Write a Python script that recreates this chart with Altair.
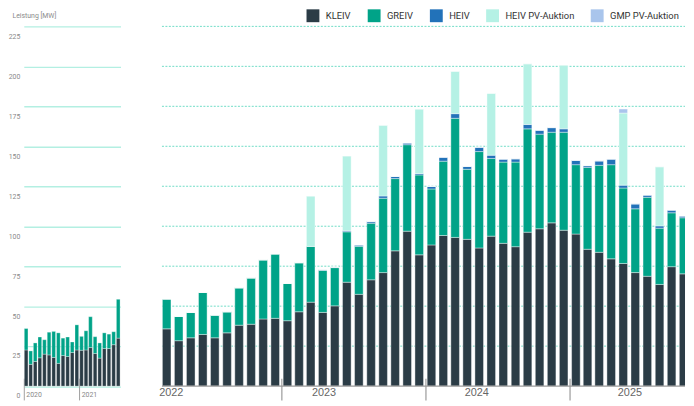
import altair as alt
import pandas as pd

SERIES = ["KLEIV", "GREIV", "HEIV", "HEIV PV-Auktion", "GMP PV-Auktion"]
COLORS = ["#2b3c46", "#00a388", "#2272b9", "#b5f1e5", "#a9c5ec"]

# ---- early panel: Jan 2020 - Sep 2021 ----
early_start = "2020-01-01"
early_kleiv = [22.6, 13.6, 15.4, 17.7, 20.0, 19.5, 17.9, 14.2, 19.1, 18.5, 21.0, 22.6,
               22.4, 22.6, 24.1, 20.4, 17.5, 23.5, 23.5, 25.9, 30.0]
early_greiv = [13.4, 8.4, 11.6, 13.0, 9.0, 14.2, 16.3, 19.1, 10.9, 12.2, 6.6, 15.7,
               8.7, 12.0, 19.3, 10.5, 9.5, 9.8, 9.0, 8.1, 24.3]

# ---- main panel: Mar 2022 - Oct 2025 ----
late_start = "2022-03-01"
late_kleiv = [35.8, 28.4, 30.2, 32.3, 30.2, 33.3, 38.1, 38.7, 42.0, 42.4,
              40.9, 46.5, 52.5, 46.1, 50.2, 65.0, 57.4, 66.5, 71.0, 84.6, 96.9, 82.1,
              88.3, 94.2, 93.0, 91.8, 86.4, 93.8, 89.3, 87.2, 96.3, 98.4, 102.1, 97.5,
              95.1, 85.6, 83.7, 79.6, 76.7, 71.0, 68.7, 63.6, 74.7, 70.2]
late_greiv = [18.7, 15.2, 15.9, 26.3, 14.2, 13.2, 23.4, 29.0, 37.0, 40.3,
              23.3, 30.7, 34.9, 26.3, 23.9, 31.5, 30.0, 35.4, 46.5, 45.2, 54.1, 50.0,
              35.0, 46.5, 74.5, 43.8, 60.3, 48.6, 50.8, 52.9, 64.6, 59.2, 56.7, 61.3,
              43.4, 51.2, 54.4, 58.9, 47.2, 39.9, 49.4, 35.2, 33.7, 35.1]
late_heiv = [0, 0, 0, 0, 0, 0, 0, 0, 0, 0,
             0, 0, 0, 0.4, 0.3, 0.6, 0.9, 1.0, 1.4, 1.3, 1.1, 0.8,
             1.6, 2.5, 2.9, 1.8, 2.7, 2.0, 1.9, 2.1, 2.7, 2.5, 2.9, 2.1,
             2.7, 1.1, 2.8, 3.5, 1.8, 3.1, 1.4, 1.4, 1.7, 1.1]
late_heiv_pv = [0, 0, 0, 0, 0, 0, 0, 0, 0, 0,
                0, 0, 31.5, 0, 0, 46.9, 0, 0, 44.3, 0, 0, 40.4,
                0, 0, 26.5, 0, 0, 38.7, 0, 0, 38.0, 0, 0, 39.9,
                0, 0, 0, 0, 45.1, 0, 0, 37.0, 0, 0]
late_gmp_pv = [0, 0, 0, 0, 0, 0, 0, 0, 0, 0,
               0, 0, 0, 0, 0, 0, 0, 0, 0, 0, 0, 0,
               0, 0, 0, 0, 0, 0, 0, 0, 0, 0, 0, 0,
               0, 0, 0, 0, 2.5, 0, 0, 0, 0, 0]

grid_values = [25, 50, 75, 100, 125, 150, 175, 200, 225]
y_labels = [0, 25, 50, 75, 100, 125, 150, 175, 200, 225]


def to_long(start, columns):
    n = len(columns[0])
    months = pd.date_range(start, periods=n, freq="MS")
    rows = []
    for si, vals in enumerate(columns):
        for m, v in zip(months, vals):
            rows.append({"month": m, "series": SERIES[si], "idx": si, "value": v})
    return pd.DataFrame(rows)


df_early = to_long(early_start, [early_kleiv, early_greiv])
df_late = to_long(late_start, [late_kleiv, late_greiv, late_heiv, late_heiv_pv, late_gmp_pv])
df_grid = pd.DataFrame({"v": grid_values})
df_base = pd.DataFrame({"v": [0]})

SMALL = "Roboto, Liberation Sans, sans-serif"
H = 364.5
LW = 98
RW = 555

yscale = alt.Scale(domain=[0, 225], nice=False, zero=True)
cscale = alt.Scale(domain=SERIES, range=COLORS)


def D(y, m, d):
    return alt.DateTime(year=y, month=m, date=d)


legend = alt.Legend(
    orient="none", legendX=286, legendY=-18, direction="horizontal", title=None,
    symbolType="square", symbolSize=170, symbolStrokeWidth=0,
    labelFont="Roboto", labelFontSize=9.5, labelColor="#333333",
    columnPadding=16, labelOffset=6, labelLimit=0,
)

left = alt.Chart(df_early).mark_bar(width=3.7, stroke="white", strokeWidth=0.3).encode(
    x=alt.X(
        "yearmonth(month):T", bandPosition=0.5,
        scale=alt.Scale(domain=[D(2020, 1, 1), D(2021, 10, 1)]),
        axis=alt.Axis(
            values=[D(2020, 1, 1), D(2021, 1, 1)], format="%Y", formatType="time",
            title=None, domain=False, grid=False, offset=-8, labelFlush=False,
            tickSize=22, tickColor="#a0a0a0", tickWidth=1,
            labelAlign="left", labelOffset=2, labelPadding=-9.5, labelBaseline="top",
            labelFont=SMALL, labelFontSize=7, labelColor="#888888",
        ),
    ),
    y=alt.Y(
        "value:Q", stack="zero", scale=yscale,
        axis=alt.Axis(
            values=y_labels, grid=True, gridColor="#b3efe2", gridWidth=1.4,
            domain=False, ticks=False, labelPadding=4, labelOffset=10,
            labelFont=SMALL, labelFontSize=7, labelColor="#8a8a8a",
            title="Leistung [MW]", titleAngle=0, titleAlign="left", titleBaseline="middle",
            titleX=-12, titleY=-11, titleFont=SMALL, titleFontSize=7,
            titleColor="#8a8a8a", titleFontWeight="normal",
        ),
    ),
    color=alt.Color("series:N", scale=cscale, legend=legend),
    order=alt.Order("idx:Q"),
).properties(width=LW, height=H)

grid = alt.Chart(df_grid).mark_rule(color="#6fdcc6", strokeDash=[2, 1.5], strokeWidth=1).encode(
    y=alt.Y("v:Q", scale=yscale, axis=None),
    x=alt.value(25), x2=alt.value(RW),
)

bars = alt.Chart(df_late).mark_bar(width=8.7, stroke="white", strokeWidth=0.4, clip=True).encode(
    x=alt.X(
        "yearmonth(month):T", bandPosition=0.5,
        scale=alt.Scale(domain=[D(2022, 1, 1), D(2025, 10, 20)]),
        axis=alt.Axis(
            values=[D(2022, 1, 1), D(2023, 1, 1), D(2024, 1, 1), D(2025, 1, 1)],
            format="%Y", formatType="time", title=None, domain=False, grid=False,
            offset=-8, labelFlush=False,
            tickSize=22, tickColor="#9a9a9a", tickWidth=1.2,
            tickOpacity={"expr": "year(datum.value) == 2022 ? 0 : 1"},
            labelOffset={"expr": "34 + 8.8 * (year(datum.value) - 2022)"},
            labelPadding=-13.5, labelBaseline="top",
            labelFont="Liberation Sans, Arial, sans-serif", labelFontSize=11, labelColor="#666666",
        ),
    ),
    y=alt.Y("value:Q", stack="zero", scale=yscale, axis=None),
    color=alt.Color("series:N", scale=cscale, legend=legend),
    order=alt.Order("idx:Q"),
)

base = alt.Chart(df_base).mark_rule(color="#9a9a9a", strokeWidth=1.3).encode(
    y=alt.Y("v:Q", scale=yscale, axis=None),
    x=alt.value(25), x2=alt.value(RW),
)

right = alt.layer(grid, bars, base).properties(width=RW, height=H)

chart = alt.hconcat(left, right, spacing=17).resolve_scale(
    x="independent", y="shared", color="shared"
).properties(
    padding={"top": -2, "left": 0, "right": 0, "bottom": 0},
    background="white", autosize=alt.AutoSizeParams(type="pad"),
).configure_view(stroke=None)

chart.save("out.html", embed_options={"renderer": "svg", "actions": False})
